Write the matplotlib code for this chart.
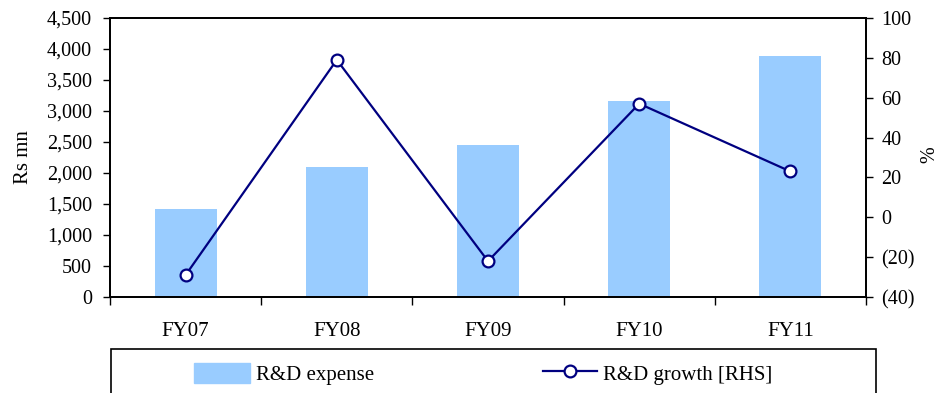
import matplotlib
matplotlib.use("Agg")
import matplotlib.pyplot as plt
from matplotlib.patches import Rectangle
from matplotlib.ticker import FuncFormatter, MultipleLocator

categories = ["FY07", "FY08", "FY09", "FY10", "FY11"]
rd_expense = [1420, 2100, 2450, 3160, 3890]
rd_growth = [-29, 79, -22, 57, 23]

W, H = 939, 393
fig = plt.figure(figsize=(W / 100, H / 100), dpi=100)
plt.rcParams["font.family"] = ["Liberation Serif", "DejaVu Serif"]

FS = 14.5
FS_CAT = 15
bar_color = "#99CCFF"
line_color = "#000080"

ax = fig.add_axes([110 / W, 1 - 297 / H, 756 / W, 279 / H])
x = list(range(len(categories)))
ax.bar(x, rd_expense, width=0.41, color=bar_color, zorder=1)
ax.set_xlim(-0.5, len(categories) - 0.5)
ax.set_ylim(0, 4500)
ax.yaxis.set_major_locator(MultipleLocator(500))
ax.yaxis.set_major_formatter(FuncFormatter(lambda v, p: f"{int(v):,}"))
ax.set_ylabel("Rs mn", fontsize=FS_CAT, labelpad=10)

# category labels centred, ticks on the category boundaries
ax.set_xticks([i + 0.5 for i in range(-1, len(categories))])
ax.set_xticklabels([])
ax.set_xticks(x, minor=True)
ax.set_xticklabels(categories, minor=True, fontsize=FS_CAT)
ax.tick_params(axis="x", which="minor", length=0, pad=18)
ax.tick_params(axis="x", which="major", direction="out", length=6, width=1)
ax.tick_params(axis="y", direction="out", length=5, width=1, labelsize=FS, pad=8)

ax2 = ax.twinx()
ax2.plot(x, rd_growth, color=line_color, lw=1.6, marker="o", ms=8.5,
         mfc="white", mec=line_color, mew=1.6, zorder=3)
ax2.set_ylim(-40, 100)
ax2.yaxis.set_major_locator(MultipleLocator(20))
ax2.yaxis.set_major_formatter(
    FuncFormatter(lambda v, p: f"({abs(int(v))})" if v < 0 else f"{int(v)}"))
ax2.tick_params(axis="y", direction="out", length=5, width=1, labelsize=FS, pad=6)
fig.text(930 / W, 1 - 155 / H, "%", rotation=90, fontsize=FS,
         ha="center", va="center")

for a in (ax, ax2):
    for s in a.spines.values():
        s.set_linewidth(1.3)
        s.set_color("black")

# legend panel below the chart
fig.add_artist(Rectangle((111 / W, -0.2), 765 / W, 0.2 + 1 - 349 / H,
                         transform=fig.transFigure, fill=False,
                         ec="black", lw=1.2))
h1 = Rectangle((0, 0), 1, 1, color=bar_color)
h2, = ax2.plot([], [], color=line_color, lw=1.6, marker="o", ms=8.5,
               mfc="white", mec=line_color, mew=1.6)
legend_y = 1 - 374 / H
leg_kw = dict(frameon=False, fontsize=FS_CAT, borderpad=0, borderaxespad=0,
              handleheight=1.1, handletextpad=0.3, loc="center left")
leg1 = fig.legend([h1], ["R&D expense"], bbox_to_anchor=(194 / W, legend_y),
                  handlelength=2.7, **leg_kw)
leg2 = fig.legend([h2], ["R&D growth [RHS]"], bbox_to_anchor=(543 / W, legend_y),
                  handlelength=2.6, **leg_kw)

fig.savefig("out.png", dpi=100)
